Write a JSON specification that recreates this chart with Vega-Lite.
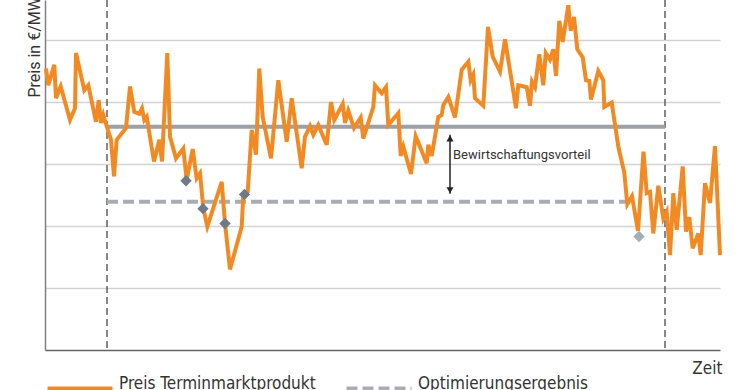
{
  "$schema": "https://vega.github.io/schema/vega-lite/v6.json",
  "width": 675,
  "height": 350,
  "autosize": {"type": "none"},
  "padding": {"left": 45, "top": 0, "right": 30, "bottom": 40},
  "background": "#ffffff",
  "config": {
    "view": {"stroke": null},
    "legend": {
      "orient": "none",
      "legendX": 0,
      "legendY": 354,
      "direction": "horizontal",
      "symbolType": "stroke",
      "symbolSize": 4225,
      "symbolStrokeWidth": 5,
      "labelFont": "DejaVu Sans Condensed, sans-serif",
      "labelFontSize": 17,
      "labelColor": "#333333",
      "labelOffset": 4,
      "labelBaseline": "alphabetic",
      "columnPadding": 20,
      "labelLimit": 400
    }
  },
  "datasets": {
    "grenzen": [{"t": 62}, {"t": 620}],
    "referenz": [{"von": 62, "bis": 620, "wert": 36.0}],
    "optimierung": [{"von": 62, "bis": 585, "wert": 23.9, "serie": "Optimierungsergebnis"}],
    "rauten_dunkel": [{"t": 141, "preis": 27.3}, {"t": 158, "preis": 22.8}, {"t": 180, "preis": 20.4}, {"t": 199.5, "preis": 25.1}],
    "rauten_hell": [{"t": 594, "preis": 18.3}],
    "pfeil": [{"t": 405, "oben": 34.7, "unten": 25.2}],
    "beschriftung": [{"t": 408, "preis": 31.5, "text": "Bewirtschaftungsvorteil"}],
    "preis": [
      {"t": 1, "preis": 45.4, "serie": "Preis Terminmarktprodukt"},
      {"t": 3.3, "preis": 42.7, "serie": "Preis Terminmarktprodukt"},
      {"t": 9.3, "preis": 46.0, "serie": "Preis Terminmarktprodukt"},
      {"t": 11, "preis": 40.6, "serie": "Preis Terminmarktprodukt"},
      {"t": 15.7, "preis": 42.5, "serie": "Preis Terminmarktprodukt"},
      {"t": 25, "preis": 37.1, "serie": "Preis Terminmarktprodukt"},
      {"t": 30, "preis": 39.0, "serie": "Preis Terminmarktprodukt"},
      {"t": 31, "preis": 47.9, "serie": "Preis Terminmarktprodukt"},
      {"t": 39.3, "preis": 41.9, "serie": "Preis Terminmarktprodukt"},
      {"t": 43.3, "preis": 42.7, "serie": "Preis Terminmarktprodukt"},
      {"t": 51, "preis": 36.8, "serie": "Preis Terminmarktprodukt"},
      {"t": 53.7, "preis": 40.3, "serie": "Preis Terminmarktprodukt"},
      {"t": 56, "preis": 36.6, "serie": "Preis Terminmarktprodukt"},
      {"t": 58.3, "preis": 37.9, "serie": "Preis Terminmarktprodukt"},
      {"t": 60.3, "preis": 36.8, "serie": "Preis Terminmarktprodukt"},
      {"t": 66, "preis": 33.9, "serie": "Preis Terminmarktprodukt"},
      {"t": 69, "preis": 28.0, "serie": "Preis Terminmarktprodukt"},
      {"t": 71.7, "preis": 33.9, "serie": "Preis Terminmarktprodukt"},
      {"t": 81, "preis": 35.8, "serie": "Preis Terminmarktprodukt"},
      {"t": 85, "preis": 42.5, "serie": "Preis Terminmarktprodukt"},
      {"t": 89.3, "preis": 38.4, "serie": "Preis Terminmarktprodukt"},
      {"t": 94.3, "preis": 38.1, "serie": "Preis Terminmarktprodukt"},
      {"t": 97, "preis": 39.0, "serie": "Preis Terminmarktprodukt"},
      {"t": 99.3, "preis": 37.1, "serie": "Preis Terminmarktprodukt"},
      {"t": 101.7, "preis": 37.6, "serie": "Preis Terminmarktprodukt"},
      {"t": 109, "preis": 30.4, "serie": "Preis Terminmarktprodukt"},
      {"t": 114.3, "preis": 33.9, "serie": "Preis Terminmarktprodukt"},
      {"t": 117, "preis": 30.4, "serie": "Preis Terminmarktprodukt"},
      {"t": 122.3, "preis": 47.9, "serie": "Preis Terminmarktprodukt"},
      {"t": 125, "preis": 34.4, "serie": "Preis Terminmarktprodukt"},
      {"t": 131, "preis": 30.9, "serie": "Preis Terminmarktprodukt"},
      {"t": 138.3, "preis": 32.5, "serie": "Preis Terminmarktprodukt"},
      {"t": 141.7, "preis": 27.4, "serie": "Preis Terminmarktprodukt"},
      {"t": 147.7, "preis": 32.4, "serie": "Preis Terminmarktprodukt"},
      {"t": 151.7, "preis": 27.7, "serie": "Preis Terminmarktprodukt"},
      {"t": 155, "preis": 28.5, "serie": "Preis Terminmarktprodukt"},
      {"t": 158.3, "preis": 22.9, "serie": "Preis Terminmarktprodukt"},
      {"t": 162.3, "preis": 19.9, "serie": "Preis Terminmarktprodukt"},
      {"t": 176.7, "preis": 27.1, "serie": "Preis Terminmarktprodukt"},
      {"t": 180, "preis": 20.4, "serie": "Preis Terminmarktprodukt"},
      {"t": 185, "preis": 13.0, "serie": "Preis Terminmarktprodukt"},
      {"t": 196.7, "preis": 19.9, "serie": "Preis Terminmarktprodukt"},
      {"t": 198.3, "preis": 25.0, "serie": "Preis Terminmarktprodukt"},
      {"t": 202.7, "preis": 25.5, "serie": "Preis Terminmarktprodukt"},
      {"t": 206.7, "preis": 35.5, "serie": "Preis Terminmarktprodukt"},
      {"t": 211, "preis": 31.5, "serie": "Preis Terminmarktprodukt"},
      {"t": 214.3, "preis": 45.4, "serie": "Preis Terminmarktprodukt"},
      {"t": 217.7, "preis": 37.6, "serie": "Preis Terminmarktprodukt"},
      {"t": 226, "preis": 30.9, "serie": "Preis Terminmarktprodukt"},
      {"t": 233.3, "preis": 43.5, "serie": "Preis Terminmarktprodukt"},
      {"t": 241.7, "preis": 33.6, "serie": "Preis Terminmarktprodukt"},
      {"t": 246.7, "preis": 40.6, "serie": "Preis Terminmarktprodukt"},
      {"t": 256.7, "preis": 29.3, "serie": "Preis Terminmarktprodukt"},
      {"t": 260, "preis": 34.4, "serie": "Preis Terminmarktprodukt"},
      {"t": 265, "preis": 36.1, "serie": "Preis Terminmarktprodukt"},
      {"t": 268.3, "preis": 34.7, "serie": "Preis Terminmarktprodukt"},
      {"t": 273.3, "preis": 36.3, "serie": "Preis Terminmarktprodukt"},
      {"t": 281.7, "preis": 33.1, "serie": "Preis Terminmarktprodukt"},
      {"t": 286, "preis": 40.0, "serie": "Preis Terminmarktprodukt"},
      {"t": 289.3, "preis": 37.1, "serie": "Preis Terminmarktprodukt"},
      {"t": 297.7, "preis": 39.7, "serie": "Preis Terminmarktprodukt"},
      {"t": 300, "preis": 36.6, "serie": "Preis Terminmarktprodukt"},
      {"t": 303.3, "preis": 38.6, "serie": "Preis Terminmarktprodukt"},
      {"t": 309, "preis": 35.8, "serie": "Preis Terminmarktprodukt"},
      {"t": 315.7, "preis": 37.5, "serie": "Preis Terminmarktprodukt"},
      {"t": 318.3, "preis": 34.1, "serie": "Preis Terminmarktprodukt"},
      {"t": 328.3, "preis": 39.2, "serie": "Preis Terminmarktprodukt"},
      {"t": 330, "preis": 42.7, "serie": "Preis Terminmarktprodukt"},
      {"t": 336.7, "preis": 41.4, "serie": "Preis Terminmarktprodukt"},
      {"t": 341, "preis": 42.4, "serie": "Preis Terminmarktprodukt"},
      {"t": 343.3, "preis": 36.3, "serie": "Preis Terminmarktprodukt"},
      {"t": 353.3, "preis": 38.2, "serie": "Preis Terminmarktprodukt"},
      {"t": 355.7, "preis": 31.3, "serie": "Preis Terminmarktprodukt"},
      {"t": 358.3, "preis": 32.8, "serie": "Preis Terminmarktprodukt"},
      {"t": 366, "preis": 28.4, "serie": "Preis Terminmarktprodukt"},
      {"t": 370.7, "preis": 34.5, "serie": "Preis Terminmarktprodukt"},
      {"t": 381.7, "preis": 30.1, "serie": "Preis Terminmarktprodukt"},
      {"t": 383.3, "preis": 33.1, "serie": "Preis Terminmarktprodukt"},
      {"t": 386.7, "preis": 31.3, "serie": "Preis Terminmarktprodukt"},
      {"t": 393.3, "preis": 37.6, "serie": "Preis Terminmarktprodukt"},
      {"t": 396.7, "preis": 37.9, "serie": "Preis Terminmarktprodukt"},
      {"t": 398.3, "preis": 39.5, "serie": "Preis Terminmarktprodukt"},
      {"t": 403.3, "preis": 40.8, "serie": "Preis Terminmarktprodukt"},
      {"t": 410, "preis": 37.5, "serie": "Preis Terminmarktprodukt"},
      {"t": 416.7, "preis": 45.2, "serie": "Preis Terminmarktprodukt"},
      {"t": 423.3, "preis": 46.5, "serie": "Preis Terminmarktprodukt"},
      {"t": 425.7, "preis": 43.5, "serie": "Preis Terminmarktprodukt"},
      {"t": 428.3, "preis": 44.4, "serie": "Preis Terminmarktprodukt"},
      {"t": 430, "preis": 40.6, "serie": "Preis Terminmarktprodukt"},
      {"t": 438.3, "preis": 39.4, "serie": "Preis Terminmarktprodukt"},
      {"t": 443, "preis": 52.1, "serie": "Preis Terminmarktprodukt"},
      {"t": 447.7, "preis": 47.3, "serie": "Preis Terminmarktprodukt"},
      {"t": 455, "preis": 44.9, "serie": "Preis Terminmarktprodukt"},
      {"t": 460, "preis": 50.1, "serie": "Preis Terminmarktprodukt"},
      {"t": 471, "preis": 39.0, "serie": "Preis Terminmarktprodukt"},
      {"t": 473.3, "preis": 42.7, "serie": "Preis Terminmarktprodukt"},
      {"t": 481.7, "preis": 42.4, "serie": "Preis Terminmarktprodukt"},
      {"t": 485, "preis": 39.4, "serie": "Preis Terminmarktprodukt"},
      {"t": 487, "preis": 43.3, "serie": "Preis Terminmarktprodukt"},
      {"t": 490, "preis": 42.4, "serie": "Preis Terminmarktprodukt"},
      {"t": 494.3, "preis": 47.7, "serie": "Preis Terminmarktprodukt"},
      {"t": 498.3, "preis": 42.7, "serie": "Preis Terminmarktprodukt"},
      {"t": 500.7, "preis": 47.9, "serie": "Preis Terminmarktprodukt"},
      {"t": 505, "preis": 46.8, "serie": "Preis Terminmarktprodukt"},
      {"t": 508.3, "preis": 48.5, "serie": "Preis Terminmarktprodukt"},
      {"t": 511, "preis": 44.2, "serie": "Preis Terminmarktprodukt"},
      {"t": 514.3, "preis": 53.1, "serie": "Preis Terminmarktprodukt"},
      {"t": 517.7, "preis": 49.7, "serie": "Preis Terminmarktprodukt"},
      {"t": 523.3, "preis": 55.6, "serie": "Preis Terminmarktprodukt"},
      {"t": 525.7, "preis": 51.5, "serie": "Preis Terminmarktprodukt"},
      {"t": 529, "preis": 53.7, "serie": "Preis Terminmarktprodukt"},
      {"t": 532.3, "preis": 48.5, "serie": "Preis Terminmarktprodukt"},
      {"t": 537.7, "preis": 47.2, "serie": "Preis Terminmarktprodukt"},
      {"t": 541, "preis": 43.5, "serie": "Preis Terminmarktprodukt"},
      {"t": 544.3, "preis": 43.4, "serie": "Preis Terminmarktprodukt"},
      {"t": 546, "preis": 40.4, "serie": "Preis Terminmarktprodukt"},
      {"t": 553.3, "preis": 45.0, "serie": "Preis Terminmarktprodukt"},
      {"t": 558.3, "preis": 43.5, "serie": "Preis Terminmarktprodukt"},
      {"t": 559.3, "preis": 39.2, "serie": "Preis Terminmarktprodukt"},
      {"t": 566.7, "preis": 39.9, "serie": "Preis Terminmarktprodukt"},
      {"t": 573.3, "preis": 32.8, "serie": "Preis Terminmarktprodukt"},
      {"t": 579.3, "preis": 28.6, "serie": "Preis Terminmarktprodukt"},
      {"t": 582.3, "preis": 23.5, "serie": "Preis Terminmarktprodukt"},
      {"t": 587, "preis": 24.8, "serie": "Preis Terminmarktprodukt"},
      {"t": 593, "preis": 19.2, "serie": "Preis Terminmarktprodukt"},
      {"t": 598.5, "preis": 32.0, "serie": "Preis Terminmarktprodukt"},
      {"t": 601.7, "preis": 25.3, "serie": "Preis Terminmarktprodukt"},
      {"t": 605, "preis": 25.5, "serie": "Preis Terminmarktprodukt"},
      {"t": 608.3, "preis": 18.8, "serie": "Preis Terminmarktprodukt"},
      {"t": 613.3, "preis": 26.5, "serie": "Preis Terminmarktprodukt"},
      {"t": 618.3, "preis": 21.2, "serie": "Preis Terminmarktprodukt"},
      {"t": 621.7, "preis": 22.3, "serie": "Preis Terminmarktprodukt"},
      {"t": 625, "preis": 15.3, "serie": "Preis Terminmarktprodukt"},
      {"t": 628.3, "preis": 25.3, "serie": "Preis Terminmarktprodukt"},
      {"t": 631.7, "preis": 19.4, "serie": "Preis Terminmarktprodukt"},
      {"t": 637.7, "preis": 29.6, "serie": "Preis Terminmarktprodukt"},
      {"t": 641, "preis": 19.1, "serie": "Preis Terminmarktprodukt"},
      {"t": 644.3, "preis": 21.4, "serie": "Preis Terminmarktprodukt"},
      {"t": 647.7, "preis": 16.4, "serie": "Preis Terminmarktprodukt"},
      {"t": 653.3, "preis": 18.8, "serie": "Preis Terminmarktprodukt"},
      {"t": 655.7, "preis": 15.3, "serie": "Preis Terminmarktprodukt"},
      {"t": 660, "preis": 26.9, "serie": "Preis Terminmarktprodukt"},
      {"t": 665, "preis": 23.7, "serie": "Preis Terminmarktprodukt"},
      {"t": 670, "preis": 32.9, "serie": "Preis Terminmarktprodukt"},
      {"t": 675, "preis": 15.3, "serie": "Preis Terminmarktprodukt"}
    ]
  },
  "layer": [
    {
      "data": {"name": "preis"},
      "mark": {"type": "line", "strokeWidth": 4, "opacity": 0},
      "encoding": {
        "x": {
          "field": "t", "type": "quantitative",
          "scale": {"domain": [0, 675], "nice": false, "zero": false},
          "axis": {
            "grid": false, "ticks": false, "labels": false,
            "domainColor": "#666666", "domainWidth": 1.5,
            "title": "Zeit",
            "titleFont": "DejaVu Sans Condensed, sans-serif",
            "titleFontSize": 17, "titleFontWeight": "normal", "titleColor": "#333333",
            "titleAnchor": "end", "titleAlign": "right", "titleBaseline": "alphabetic",
            "titleX": 677, "titleY": 23
          }
        },
        "y": {
          "field": "preis", "type": "quantitative",
          "scale": {"domain": [0, 56.45], "nice": false, "zero": false},
          "axis": {
            "grid": true, "values": [10, 20, 30, 40, 50],
            "gridColor": "#d3d3d3", "gridWidth": 1.5,
            "ticks": false, "labels": false,
            "domainColor": "#808080", "domainWidth": 1.5,
            "title": "Preis in €/MWh",
            "titleFont": "Roboto", "titleFontSize": 16, "titleFontWeight": "normal", "titleColor": "#333333",
            "titleAngle": -90, "titleAlign": "left", "titleBaseline": "alphabetic",
            "titleX": -5.5, "titleY": 97
          }
        }
      }
    },
    {
      "data": {"name": "grenzen"},
      "mark": {"type": "rule", "color": "#3a3a3a", "strokeWidth": 1.2, "strokeDash": [7, 4]},
      "encoding": {
        "x": {"field": "t", "type": "quantitative"}
      }
    },
    {
      "data": {"name": "referenz"},
      "mark": {"type": "rule", "color": "#9ba1a7", "strokeWidth": 4},
      "encoding": {
        "x": {"field": "von", "type": "quantitative"},
        "x2": {"field": "bis"},
        "y": {"field": "wert", "type": "quantitative"}
      }
    },
    {
      "data": {"name": "optimierung"},
      "mark": {"type": "rule", "strokeWidth": 4},
      "encoding": {
        "x": {"field": "von", "type": "quantitative"},
        "x2": {"field": "bis"},
        "y": {"field": "wert", "type": "quantitative"},
        "color": {
          "field": "serie", "type": "nominal",
          "scale": {"domain": ["Preis Terminmarktprodukt", "Optimierungsergebnis"], "range": ["#f28a24", "#a7adb2"]},
          "legend": {"title": null}
        },
        "strokeDash": {
          "field": "serie", "type": "nominal",
          "scale": {"domain": ["Preis Terminmarktprodukt", "Optimierungsergebnis"], "range": [[1, 0], [11, 5]]},
          "legend": {"title": null}
        }
      }
    },
    {
      "data": {"name": "preis"},
      "mark": {"type": "line", "strokeWidth": 4},
      "encoding": {
        "x": {"field": "t", "type": "quantitative"},
        "y": {"field": "preis", "type": "quantitative"},
        "color": {
          "field": "serie", "type": "nominal",
          "scale": {"domain": ["Preis Terminmarktprodukt", "Optimierungsergebnis"], "range": ["#f28a24", "#a7adb2"]},
          "legend": {"title": null}
        },
        "strokeDash": {
          "field": "serie", "type": "nominal",
          "scale": {"domain": ["Preis Terminmarktprodukt", "Optimierungsergebnis"], "range": [[1, 0], [11, 5]]},
          "legend": {"title": null}
        }
      }
    },
    {
      "data": {"name": "rauten_dunkel"},
      "mark": {"type": "point", "shape": "diamond", "filled": true, "size": 130, "color": "#6f7a84", "opacity": 1},
      "encoding": {
        "x": {"field": "t", "type": "quantitative"},
        "y": {"field": "preis", "type": "quantitative"}
      }
    },
    {
      "data": {"name": "rauten_hell"},
      "mark": {"type": "point", "shape": "diamond", "filled": true, "size": 130, "color": "#a4aeb7", "opacity": 1},
      "encoding": {
        "x": {"field": "t", "type": "quantitative"},
        "y": {"field": "preis", "type": "quantitative"}
      }
    },
    {
      "data": {"name": "pfeil"},
      "mark": {"type": "rule", "color": "#222222", "strokeWidth": 1.5},
      "encoding": {
        "x": {"field": "t", "type": "quantitative"},
        "y": {"field": "oben", "type": "quantitative"},
        "y2": {"field": "unten"}
      }
    },
    {
      "data": {"name": "pfeil"},
      "mark": {"type": "point", "shape": "triangle-up", "filled": true, "size": 49, "color": "#222222", "opacity": 1, "yOffset": 3.5},
      "encoding": {
        "x": {"field": "t", "type": "quantitative"},
        "y": {"field": "oben", "type": "quantitative"}
      }
    },
    {
      "data": {"name": "pfeil"},
      "mark": {"type": "point", "shape": "triangle-down", "filled": true, "size": 49, "color": "#222222", "opacity": 1, "yOffset": -3.5},
      "encoding": {
        "x": {"field": "t", "type": "quantitative"},
        "y": {"field": "unten", "type": "quantitative"}
      }
    },
    {
      "data": {"name": "beschriftung"},
      "mark": {"type": "text", "align": "left", "baseline": "middle", "font": "Roboto", "fontSize": 13, "color": "#333333"},
      "encoding": {
        "x": {"field": "t", "type": "quantitative"},
        "y": {"field": "preis", "type": "quantitative"},
        "text": {"field": "text"}
      }
    }
  ]
}
